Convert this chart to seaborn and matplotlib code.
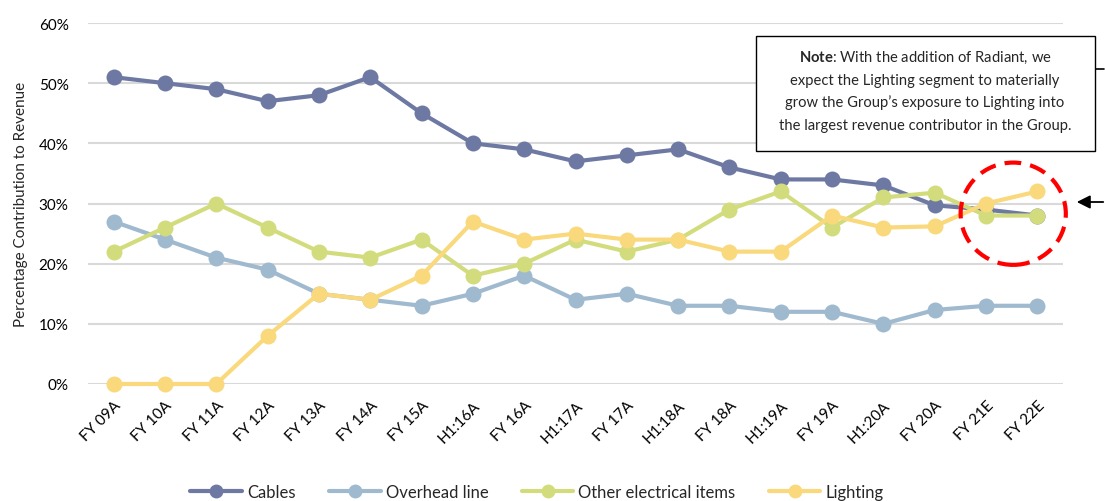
import matplotlib
matplotlib.use("Agg")
import matplotlib.pyplot as plt
import seaborn as sns
import pandas as pd
from matplotlib.patches import Ellipse
from matplotlib.ticker import PercentFormatter
from matplotlib.lines import Line2D

periods = ["FY 09A", "FY 10A", "FY 11A", "FY 12A", "FY 13A", "FY 14A", "FY 15A",
           "H1:16A", "FY 16A", "H1:17A", "FY 17A", "H1:18A", "FY 18A", "H1:19A",
           "FY 19A", "H1:20A", "FY 20A", "FY 21E", "FY 22E"]
cables = [51, 50, 49, 47, 48, 51, 45, 40, 39, 37, 38, 39, 36, 34, 34, 33, 29.7, 29, 28]
overhead = [27, 24, 21, 19, 15, 14, 13, 15, 18, 14, 15, 13, 13, 12, 12, 10, 12.3, 13, 13]
other = [22, 26, 30, 26, 22, 21, 24, 18, 20, 24, 22, 24, 29, 32, 26, 31, 31.8, 28, 28]
lighting = [0, 0, 0, 8, 15, 14, 18, 27, 24, 25, 24, 24, 22, 22, 28, 26, 26.2, 30, 32]
series_names = ["Cables", "Overhead line", "Other electrical items", "Lighting"]
colors = ["#6E79A3", "#9FB9CF", "#D3DC7C", "#F9D97C"]

frames = []
for name, vals in zip(series_names, [cables, overhead, other, lighting]):
    frames.append(pd.DataFrame({"period": periods, "value": vals, "segment": name}))
df = pd.concat(frames, ignore_index=True)

sns.set_theme(style="white")
plt.rcParams["font.family"] = ["Lato", "DejaVu Sans"]
plt.rcParams["mathtext.fontset"] = "custom"
plt.rcParams["mathtext.rm"] = "Lato"
plt.rcParams["mathtext.bf"] = "Lato:bold"

fig = plt.figure(figsize=(11.05, 5.02), dpi=100)
ax = fig.add_axes([88/1105, 1-385/502, 975/1105, 361/502])

sns.lineplot(data=df, x="period", y="value", hue="segment", hue_order=series_names,
             palette=colors, marker="o", markersize=11.5, markeredgewidth=0,
             linewidth=3, sort=False, ax=ax, legend=False)
for ln in ax.lines:
    ln.set_clip_on(False)

ax.set_xlim(-0.5, len(periods) - 0.5)
ax.set_ylim(0, 60)
ax.set_yticks([0, 10, 20, 30, 40, 50, 60])
ax.yaxis.set_major_formatter(PercentFormatter(decimals=0))
ax.grid(axis="y", color="#D9D9D9", linewidth=1.5)
ax.set_axisbelow(True)
for s in ax.spines.values():
    s.set_visible(False)
ax.tick_params(axis="both", length=0, labelsize=11, colors="#000000")
ax.tick_params(axis="y", pad=14)
ax.set_xticks(range(len(periods)))
ax.set_xticklabels(periods, rotation=45, ha="right", rotation_mode="anchor")
ax.tick_params(axis="x", pad=10)
ax.set_xlabel("")
ax.set_ylabel("Percentage Contribution to Revenue", fontsize=11, labelpad=8)

# red dashed circle
ell = Ellipse((17.53, 28.3), 2.05, 17.0, fill=False, edgecolor="#FF0000",
              linewidth=3, linestyle=(0, (4, 2.2)), zorder=5, clip_on=False)
ax.add_patch(ell)

# note box
bx0, by0, bx1, by1 = 756/1105, 1-152/502, 1095/1105, 1-37/502
fig.patches.append(plt.Rectangle((bx0, by0), bx1-bx0, by1-by0, transform=fig.transFigure,
                                 facecolor="white", edgecolor="black", linewidth=1.0, zorder=10))
note_lines = [r"$\mathbf{Note}$: With the addition of Radiant, we",
              "expect the Lighting segment to materially",
              "grow the Group\u2019s exposure to Lighting into",
              "the largest revenue contributor in the Group."]
ys = [58, 81, 103, 126]
for t, yy in zip(note_lines, ys):
    fig.text(925/1105, 1-yy/502, t, ha="center", va="center", fontsize=10.6, zorder=11)

# small dash and arrow on right
fig.add_artist(Line2D([1094/1105, 1104/1105], [1-70/502, 1-70/502],
                      transform=fig.transFigure, color="black", linewidth=1.2))
fig.add_artist(matplotlib.patches.FancyArrowPatch((1106/1105, 1-203/502), (1074/1105, 1-203/502),
                                                 transform=fig.transFigure, arrowstyle="-|>",
                                                 mutation_scale=20, color="black", linewidth=1.3))

# legend
handles = [Line2D([0], [0], color=c, linewidth=3, marker="o", markersize=10,
                  markeredgewidth=0) for c in colors]
fig.legend(handles, series_names, loc="center", bbox_to_anchor=(537/1105, 1-493/502),
           ncol=4, frameon=False, fontsize=12, handlelength=3.1, columnspacing=2.0,
           handletextpad=0.3)

fig.savefig("out.png", dpi=100)
